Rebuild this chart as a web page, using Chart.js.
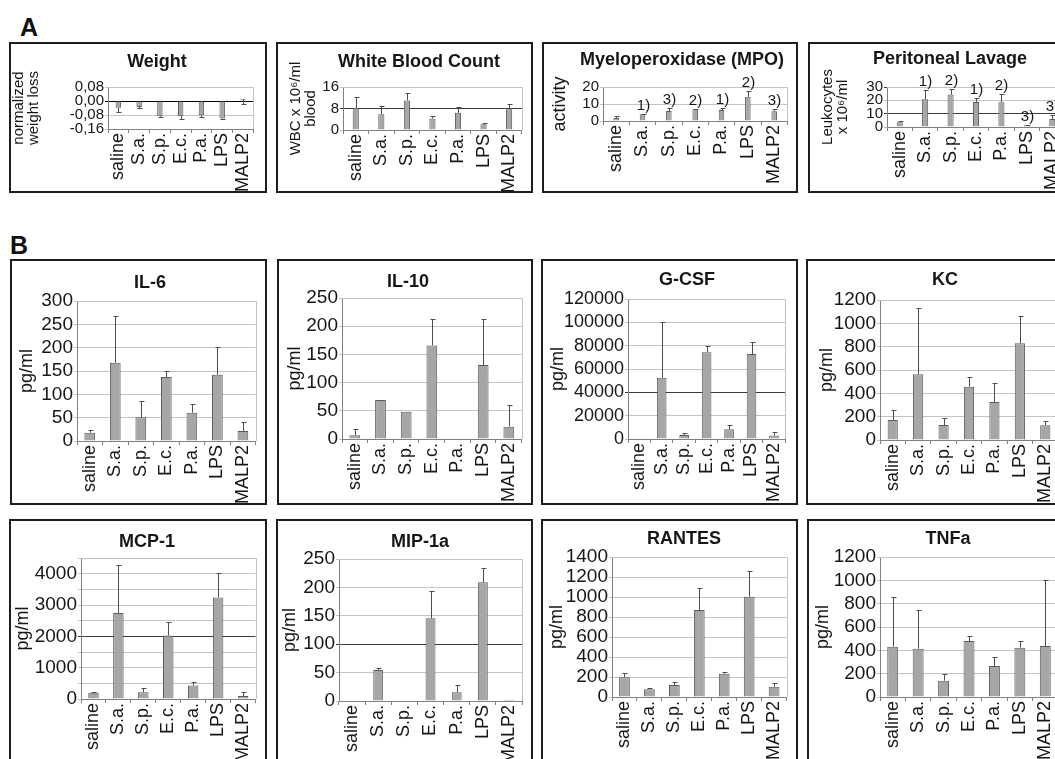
<!DOCTYPE html>
<html>
<head>
<meta charset="utf-8">
<script src="https://cdn.jsdelivr.net/npm/chart.js@4.4.0/dist/chart.umd.min.js"></script>
<style>
html, body { margin: 0; padding: 0; background: #fff; }
body { width: 1055px; height: 759px; overflow: hidden; position: relative; font-family: "Liberation Sans", Arial, sans-serif; }
.panel { position: absolute; border: 2px solid #1e1e1e; box-sizing: border-box; background: #fff; overflow: hidden; }
.panel canvas { display: block; }
.letter { position: absolute; font-weight: bold; font-size: 25px; line-height: 1; color: #111; }
</style>
</head>
<body>
<div class="letter" style="left:20px;top:15px">A</div>
<div class="letter" style="left:10px;top:233px">B</div>
<script>
// Cytokine / inflammation panels, one bar chart per box

const CATEGORIES = ["saline", "S.a.", "S.p.", "E.c.", "P.a.", "LPS", "MALP2"];

// --- A ---
const weightLoss    = [-0.038, -0.034, -0.087, -0.087, -0.082, -0.100, 0.010];
const weightLossErr = [0.025, 0.006, 0.004, 0.013, 0.008, 0.003, 0.025];

const wbc    = [8.2, 5.9, 11.0, 4.3, 6.4, 2.1, 7.7];
const wbcErr = [4.1, 2.9, 2.8, 1.0, 2.2, 0.6, 1.8];

const mpo      = [1.8, 4.0, 5.9, 6.9, 6.4, 14.3, 5.8];
const mpoErr   = [1.2, 0.4, 2.0, 0.4, 1.3, 3.3, 1.5];
const mpoNotes = ["", "1)", "3)", "2)", "1)", "2)", "3)"];

const lavage      = [3.5, 20.8, 24.3, 18.8, 18.6, 1.3, 6.0];
const lavageErr   = [1.0, 7.2, 4.5, 2.6, 6.5, 0.5, 3.0];
const lavageNotes = ["", "1)", "2)", "1)", "2)", "3)", "3)"];

// --- B ---
const il6    = [17.9, 167.8, 50.7, 137, 60.7, 142, 21.4];
const il6Err = [5.7, 100, 34, 13, 18, 59, 20];

const il10    = [6.5, 69, 48.5, 166, 1, 131, 21.9];
const il10Err = [10.5, 0, 0, 46, 0, 81, 38];

const gcsf    = [300, 52500, 3500, 74300, 8300, 72800, 2900];
const gcsfErr = [0, 48000, 1500, 5400, 3700, 10000, 2800];

const kc    = [171, 563, 128, 457, 326, 829, 126];
const kcErr = [86, 566, 58, 86, 160, 237, 40];

const mcp1    = [203, 2741, 213, 2027, 427, 3243, 96];
const mcp1Err = [32, 1526, 128, 437, 106, 778, 117];

const mip1a    = [0, 54.6, 0, 145.6, 15.3, 209, 2];
const mip1aErr = [0, 2.9, 0, 48, 12.7, 26, 0];

const rantes    = [197, 77, 120, 870, 233, 1003, 103];
const rantesErr = [46, 16, 33, 217, 20, 257, 40];

const tnfa    = [431, 414, 140, 480, 266, 423, 437];
const tnfaErr = [429, 332, 57, 46, 80, 60, 566];

const FONT = "'Liberation Sans', Arial, sans-serif";
const TEXT = "#161616";

function commaFmt(v) {
  if (Math.abs(v) < 1e-9) return "0,00";
  return v.toFixed(2).replace(".", ",");
}
function thousandsOnly(v) {
  return v % 1000 === 0 ? v : "";
}

// box = outer border rect, plot = chart area (l, t, r, b), page coordinates
var panels = [
  { title: "Weight", titleAt: [157, 62], box: [9, 42, 258, 151], plot: [108, 87, 259, 129],
    values: weightLoss, errors: weightLossErr, dir: -1, min: -0.16, max: 0.08, step: 0.08, fmt: commaFmt,
    yTitle: ["normalized", "weight loss"], yTitleSize: 15, yTitleLH: 1.0, yTitlePad: 0,
    tickSize: 15, bar: 0.26, dark: [0] },
  { title: "White Blood Count", titleAt: [419, 62], box: [276, 42, 257, 151], plot: [343, 87, 527, 130],
    values: wbc, errors: wbcErr, dir: 1, min: 0, max: 16, step: 8,
    yTitle: ["WBC x 10\u2076/ml", "blood"], yTitleSize: 15, yTitleLH: 0.95, yTitlePad: 11,
    tickSize: 15, bar: 0.24, dark: [8] },
  { title: "Myeloperoxidase (MPO)", titleAt: [682, 60], box: [542, 42, 256, 151], plot: [603, 87, 793, 121],
    values: mpo, errors: mpoErr, notes: mpoNotes, dir: 1, min: 0, max: 20, step: 10,
    yTitle: "activity", yTitleSize: 18, yTitleLH: 1.2, yTitlePad: 5,
    tickSize: 15, bar: 0.21, dark: [] },
  { title: "Peritoneal Lavage", titleAt: [950, 59], box: [808, 42, 270, 151], plot: [887, 87, 1065, 127],
    values: lavage, errors: lavageErr, notes: lavageNotes, dir: 1, min: 0, max: 30, step: 10,
    yTitle: ["Leukocytes", "x 10\u2076/ml"], yTitleSize: 15, yTitleLH: 1.0, yTitlePad: 10,
    tickSize: 15, bar: 0.24, dark: [10, 30] },

  { title: "IL-6", titleAt: [150, 283], box: [10, 259, 257, 246], plot: [77, 301, 258, 441],
    values: il6, errors: il6Err, dir: 1, min: 0, max: 300, step: 50,
    yTitle: "pg/ml", yTitleSize: 18, yTitleLH: 1.2, yTitlePad: 4, tickSize: 19, bar: 0.42, dark: [] },
  { title: "IL-10", titleAt: [408, 282], box: [277, 259, 256, 246], plot: [342, 298, 523, 439],
    values: il10, errors: il10Err, dir: 1, min: 0, max: 250, step: 50,
    yTitle: "pg/ml", yTitleSize: 18, yTitleLH: 1.2, yTitlePad: 5, tickSize: 19, bar: 0.42, dark: [] },
  { title: "G-CSF", titleAt: [687, 280], box: [541, 259, 257, 246], plot: [628, 299, 790, 439],
    values: gcsf, errors: gcsfErr, dir: 1, min: 0, max: 120000, step: 20000,
    yTitle: "pg/ml", yTitleSize: 18, yTitleLH: 1.2, yTitlePad: 4, tickSize: 18, bar: 0.43, dark: [40000] },
  { title: "KC", titleAt: [945, 280], box: [806, 259, 270, 246], plot: [880, 300, 1058, 440],
    values: kc, errors: kcErr, dir: 1, min: 0, max: 1200, step: 200,
    yTitle: "pg/ml", yTitleSize: 18, yTitleLH: 1.2, yTitlePad: 8, tickSize: 19, bar: 0.40, dark: [] },

  { title: "MCP-1", titleAt: [147, 542], box: [9, 519, 258, 260], plot: [81, 558, 260, 699],
    values: mcp1, errors: mcp1Err, dir: 1, min: 0, max: 4500, step: 500, fmt: thousandsOnly,
    yTitle: "pg/ml", yTitleSize: 18, yTitleLH: 1.2, yTitlePad: 1, tickSize: 19, bar: 0.42, dark: [2000] },
  { title: "MIP-1a", titleAt: [420, 542], box: [276, 519, 257, 260], plot: [339, 559, 525, 701],
    values: mip1a, errors: mip1aErr, dir: 1, min: 0, max: 250, step: 50,
    yTitle: "pg/ml", yTitleSize: 18, yTitleLH: 1.2, yTitlePad: 1, tickSize: 19, bar: 0.38, dark: [100] },
  { title: "RANTES", titleAt: [684, 539], box: [541, 519, 257, 260], plot: [612, 557, 792, 697],
    values: rantes, errors: rantesErr, dir: 1, min: 0, max: 1400, step: 200,
    yTitle: "pg/ml", yTitleSize: 18, yTitleLH: 1.2, yTitlePad: 3, tickSize: 19, bar: 0.43, dark: [] },
  { title: "TNFa", titleAt: [948, 539], box: [807, 519, 270, 260], plot: [880, 557, 1058, 697],
    values: tnfa, errors: tnfaErr, dir: 1, min: 0, max: 1200, step: 200,
    yTitle: "pg/ml", yTitleSize: 18, yTitleLH: 1.2, yTitlePad: 3, tickSize: 19, bar: 0.43, dark: [] }
];

// --- Plugins ---

var panelTitle = {
  id: "panelTitle",
  afterDraw: function(chart, args, opts) {
    var ctx = chart.ctx;
    ctx.save();
    ctx.font = "bold 18px " + FONT;
    ctx.fillStyle = TEXT;
    ctx.textAlign = "center";
    ctx.textBaseline = "middle";
    ctx.fillText(opts.text, opts.x, opts.y);
    ctx.restore();
  }
};

var plotFrame = {
  id: "plotFrame",
  beforeDatasetsDraw: function(chart) {
    var a = chart.chartArea, ctx = chart.ctx;
    ctx.save();
    ctx.strokeStyle = "#c2c2c2";
    ctx.lineWidth = 1;
    ctx.beginPath();
    ctx.moveTo(a.left, Math.round(a.top) + 0.5);
    ctx.lineTo(Math.round(a.right) + 0.5, Math.round(a.top) + 0.5);
    ctx.lineTo(Math.round(a.right) + 0.5, a.bottom);
    ctx.stroke();
    ctx.restore();
  }
};

var errorBars = {
  id: "errorBars",
  afterDatasetsDraw: function(chart, args, opts) {
    var meta = chart.getDatasetMeta(0);
    var y = chart.scales.y;
    var ctx = chart.ctx;
    ctx.save();
    ctx.strokeStyle = "#4d4d4d";
    ctx.fillStyle = TEXT;
    ctx.lineWidth = 1;
    ctx.font = "15px " + FONT;
    ctx.textAlign = "center";
    ctx.textBaseline = "bottom";
    for (var i = 0; i < opts.values.length; i++) {
      var v = opts.values[i];
      var e = opts.errors[i];
      var x = Math.round(meta.data[i].x) + 0.5;
      var y0 = y.getPixelForValue(v);
      var y1 = Math.round(y.getPixelForValue(v + opts.dir * e)) + 0.5;
      if (e > 0) {
        ctx.beginPath();
        ctx.moveTo(x, y0);
        ctx.lineTo(x, y1);
        ctx.moveTo(x - 2, y1);
        ctx.lineTo(x + 3, y1);
        ctx.stroke();
      }
      if (opts.notes && opts.notes[i]) {
        ctx.fillText(opts.notes[i], x, Math.min(y0, y1) - 1);
      }
    }
    ctx.restore();
  }
};

// --- Build panels ---

function makePanel(p) {
  var div = document.createElement("div");
  div.className = "panel";
  div.style.left = p.box[0] + "px";
  div.style.top = p.box[1] + "px";
  div.style.width = p.box[2] + "px";
  div.style.height = p.box[3] + "px";
  var canvas = document.createElement("canvas");
  var cw = p.box[2] - 4, ch = p.box[3] - 4;
  canvas.width = cw;
  canvas.height = ch;
  div.appendChild(canvas);
  document.body.appendChild(div);

  var ox = p.box[0] + 2, oy = p.box[1] + 2;
  var yWidth = p.plot[0] - ox;
  var xHeight = oy + ch - p.plot[3];
  var dark = p.dark;

  new Chart(canvas, {
    type: "bar",
    data: {
      labels: CATEGORIES,
      datasets: [{
        data: p.values,
        backgroundColor: "#a6a6a6",
        borderColor: "#5c5c5c",
        borderWidth: 1,
        barPercentage: p.bar,
        categoryPercentage: 1
      }]
    },
    options: {
      responsive: false,
      animation: false,
      layout: { padding: { top: p.plot[1] - oy, right: ox + cw - p.plot[2], left: 0, bottom: 0 } },
      plugins: {
        legend: { display: false },
        tooltip: { enabled: false },
        panelTitle: { text: p.title, x: p.titleAt[0] - ox, y: p.titleAt[1] - oy },
        errorBars: { values: p.values, errors: p.errors, notes: p.notes || null, dir: p.dir }
      },
      scales: {
        x: {
          grid: { offset: true, drawOnChartArea: false, tickLength: 4, color: "#808080" },
          border: { color: "#808080" },
          ticks: { minRotation: 90, maxRotation: 90, autoSkip: false, padding: 0, color: TEXT,
                   font: { family: FONT, size: 18 } },
          afterFit: function(s) { s.height = xHeight; }
        },
        y: {
          min: p.min,
          max: p.max,
          ticks: {
            stepSize: p.step,
            autoSkip: false,
            padding: 1,
            color: TEXT,
            font: { family: FONT, size: p.tickSize },
            callback: p.fmt || function(v) { return v; }
          },
          grid: {
            tickLength: 3,
            color: function(c) {
              for (var k = 0; k < dark.length; k++) {
                if (Math.abs(c.tick.value - dark[k]) < 1e-9) return dark[k] === 0 ? "#000" : "#3c3c3c";
              }
              return "#c4c4c4";
            }
          },
          border: { color: "#808080" },
          title: {
            display: true,
            text: p.yTitle,
            color: TEXT,
            padding: { top: p.yTitlePad, bottom: 0 },
            font: { family: FONT, size: p.yTitleSize, lineHeight: p.yTitleLH }
          },
          afterFit: function(s) { s.width = yWidth; }
        }
      }
    },
    plugins: [panelTitle, plotFrame, errorBars]
  });
}

panels.forEach(makePanel);
</script>
</body>
</html>
